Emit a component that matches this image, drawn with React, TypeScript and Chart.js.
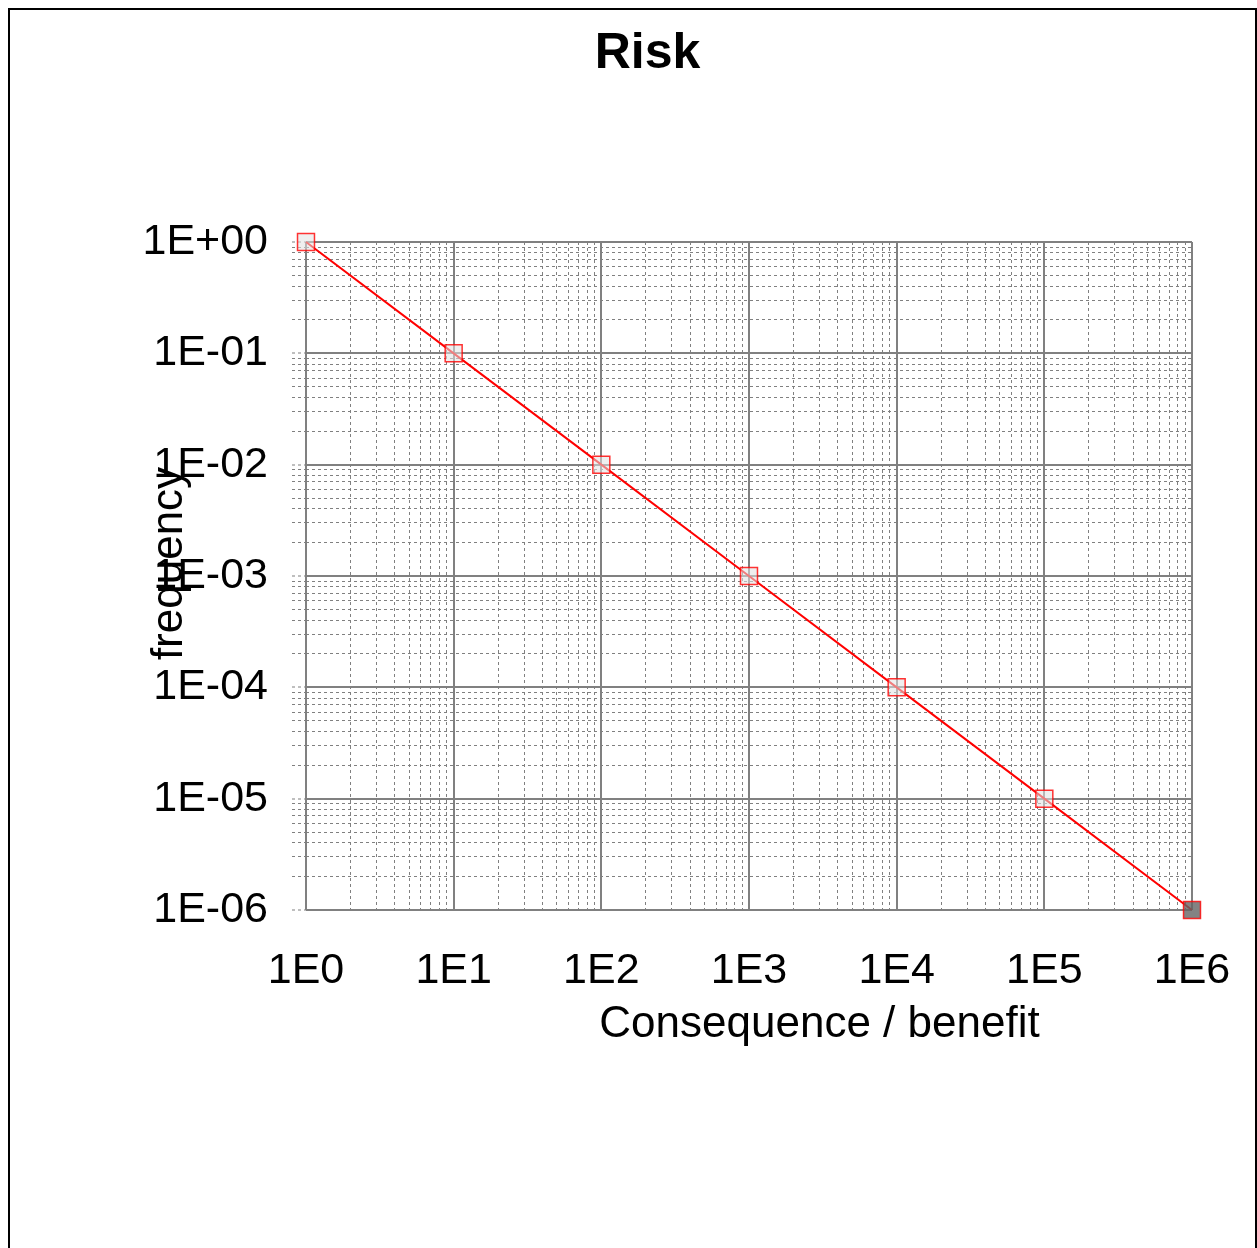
import React, { useEffect, useRef } from 'react';
import { Chart, registerables } from 'chart.js';

Chart.register(...registerables);

// Data
const consequence = [1, 10, 100, 1000, 10000, 100000, 1000000];
const frequency = [1, 0.1, 0.01, 0.001, 0.0001, 0.00001, 0.000001];

// Axis decades and their tick labels
const xDecades = [1, 10, 100, 1000, 10000, 100000, 1000000];
const xTickLabels = ['1E0', '1E1', '1E2', '1E3', '1E4', '1E5', '1E6'];
const yDecades = [0.000001, 0.00001, 0.0001, 0.001, 0.01, 0.1, 1];
const yTickLabels = ['1E-06', '1E-05', '1E-04', '1E-03', '1E-02', '1E-01', '1E+00'];

const chartTitle = 'Risk';
const xTitle = 'Consequence / benefit';
const yTitle = 'frequency';

const FONT = "'Liberation Sans', Arial, Helvetica, sans-serif";

function buildLogTicks(decades: number[]) {
  const ticks: { value: number; major: boolean }[] = [];
  for (let i = 0; i < decades.length - 1; i++) {
    for (let k = 1; k <= 9; k++) {
      ticks.push({ value: k * decades[i], major: k === 1 });
    }
  }
  ticks.push({ value: decades[decades.length - 1], major: true });
  return ticks;
}

function labelFor(value: number, decades: number[], labels: string[]) {
  const e = Math.round(Math.log10(value));
  const idx = decades.findIndex((d) => Math.round(Math.log10(d)) === e);
  return idx >= 0 ? labels[idx] : '';
}

const textPlugin = {
  id: 'customText',
  afterDraw(chart: any) {
    const ctx = chart.ctx;
    ctx.save();
    ctx.fillStyle = '#000';
    // main title
    ctx.font = `bold 50px ${FONT}`;
    ctx.textAlign = 'center';
    ctx.textBaseline = 'alphabetic';
    ctx.fillText(chartTitle, 637.5, 58);
    // x axis title
    ctx.font = `44px ${FONT}`;
    ctx.fillText(xTitle, 809.5, 1026.5);
    // y axis title
    ctx.translate(172, 553.5);
    ctx.rotate(-Math.PI / 2);
    ctx.fillText(yTitle, 0, 0);
    ctx.restore();
  },
};

const CW = 1245;
const CH = 1238;

export default function App() {
  const canvasRef = useRef<HTMLCanvasElement | null>(null);

  useEffect(() => {
    document.documentElement.style.overflow = 'hidden';
    const canvas = canvasRef.current;
    if (!canvas) return;

    const gridColor = '#808080';

    const chart = new Chart(canvas, {
      type: 'line',
      data: {
        datasets: [
          {
            data: consequence.map((x, i) => ({ x, y: frequency[i] })),
            borderColor: '#ff0000',
            borderWidth: 2,
            pointStyle: 'rect',
            pointRadius: 12,
            pointHoverRadius: 12,
            pointBorderWidth: 1.5,
            pointBorderColor: 'rgba(255,0,0,0.8)',
            pointBackgroundColor: (c: any) =>
              c.dataIndex === consequence.length - 1 ? 'rgba(100,100,100,0.8)' : 'rgba(225,225,225,0.55)',
            clip: false as any,
            tension: 0,
          },
        ],
      },
      options: {
        animation: false,
        responsive: false,
        devicePixelRatio: 1,
        layout: { padding: { left: 0, top: 232, right: 63, bottom: CH - 900 - 100 } },
        plugins: {
          legend: { display: false },
          title: { display: false },
          tooltip: { enabled: false },
        },
        scales: {
          x: {
            type: 'logarithmic',
            min: 1,
            max: 1000000,
            afterBuildTicks: (scale: any) => {
              scale.ticks = buildLogTicks(xDecades);
            },
            afterFit: (scale: any) => {
              scale.height = 100;
            },
            ticks: {
              autoSkip: false,
              maxRotation: 0,
              minRotation: 0,
              padding: 0,
              color: '#000',
              font: { family: FONT, size: 43 },
              callback: (value: any, index: number, ticks: any[]) =>
                ticks[index] && ticks[index].major ? labelFor(Number(value), xDecades, xTickLabels) : '',
            },
            grid: {
              drawTicks: true,
              tickLength: 35,
              tickColor: 'rgba(0,0,0,0)',
              color: gridColor,
              lineWidth: (c: any) => (c.tick && c.tick.major ? 2 : 1),
            },
            border: {
              display: false,
              dash: (c: any) => (c.tick && !c.tick.major ? [3, 3] : []),
            } as any,
          },
          y: {
            type: 'logarithmic',
            min: 0.000001,
            max: 1,
            afterBuildTicks: (scale: any) => {
              scale.ticks = buildLogTicks(yDecades);
            },
            afterFit: (scale: any) => {
              scale.width = 296;
            },
            ticks: {
              autoSkip: false,
              padding: 24,
              color: '#000',
              font: { family: FONT, size: 43 },
              callback: (value: any, index: number, ticks: any[]) =>
                ticks[index] && ticks[index].major ? labelFor(Number(value), yDecades, yTickLabels) : '',
            },
            grid: {
              drawTicks: true,
              tickLength: 14,
              tickColor: gridColor,
              tickWidth: 1,
              tickBorderDash: [3, 3],
              color: gridColor,
              lineWidth: (c: any) => (c.tick && c.tick.major ? 2 : 1),
            },
            border: {
              display: false,
              dash: (c: any) => (c.tick && !c.tick.major ? [3, 3] : []),
            } as any,
          },
        },
      },
      plugins: [textPlugin],
    } as any);

    return () => {
      chart.destroy();
    };
  }, []);

  return (
    <div>
      <div
        style={{
          position: 'fixed',
          left: 8,
          top: 8,
          right: 0,
          bottom: -20,
          border: '2px solid #000',
          pointerEvents: 'none',
          zIndex: 2,
        }}
      />
      <canvas
        ref={canvasRef}
        width={CW}
        height={CH}
        style={{ position: 'absolute', left: 10, top: 10, display: 'block', width: CW, height: CH }}
      />
    </div>
  );
}
